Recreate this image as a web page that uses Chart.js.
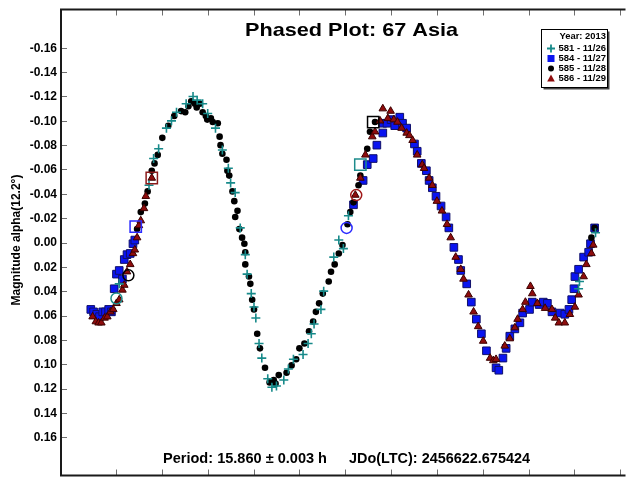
<!DOCTYPE html>
<html>
<head>
<meta charset="utf-8">
<title>Phased Plot: 67 Asia</title>
<script src="https://cdn.jsdelivr.net/npm/chart.js@4.4.1/dist/chart.umd.min.js"></script>
<style>
    html, body { margin: 0; padding: 0; background: #fff; overflow: hidden; }
</style>
</head>
<body>
<canvas id="phased" width="633" height="485"></canvas>
<script>
const FONT = '"Liberation Sans", Arial, sans-serif';

// axis ticks (phase on x, reduced magnitude on y)
const xTicks = [0, 0.1, 0.2, 0.3, 0.4, 0.5, 0.6, 0.7, 0.8, 0.9, 1.0, 1.1];
const yTicks = [-0.16, -0.14, -0.12, -0.10, -0.08, -0.06, -0.04, -0.02, 0, 0.02, 0.04, 0.06, 0.08, 0.10, 0.12, 0.14, 0.16];

const sessionLabels = ['581 - 11/26', '584 - 11/27', '585 - 11/28', '586 - 11/29'];

// session 581
const phase581 = [0.007, 0.072, 0.082, 0.093, 0.110, 0.121, 0.132, 0.153, 0.168, 0.177, 0.189, 0.200, 0.217, 0.232, 0.245,
    0.250, 0.260, 0.271, 0.282, 0.286, 0.295, 0.301, 0.305, 0.312, 0.318, 0.331, 0.340, 0.350, 0.366, 0.376, 0.387,
    0.408, 0.419, 0.426, 0.432, 0.447, 0.453, 0.475, 0.486, 0.496, 0.507, 1.009, 1.011, 1.046];
const mag581 = [0.034, -0.047, -0.069, -0.077, -0.094, -0.100, -0.107, -0.114, -0.120, -0.117, -0.114, -0.106, -0.094, -0.076, -0.061,
    -0.049, -0.041, -0.012, 0.010, 0.026, 0.042, 0.053, 0.062, 0.083, 0.095, 0.112, 0.119, 0.118, 0.113, 0.104, 0.096,
    0.092, 0.083, 0.075, 0.067, 0.055, 0.040, 0.012, -0.002, 0.005, -0.022, 0.038, 0.032, -0.008];

// session 584
const phase584 = [-0.055, -0.049, -0.042, -0.036, -0.029, -0.023, -0.016, -0.010, -0.004, 0.001, 0.007, 0.014, 0.018, 0.024, 0.031,
    0.037, 0.041, 0.518, 0.539, 0.548, 0.561, 0.569, 0.582, 0.582, 0.591, 0.600, 0.608, 0.619, 0.625, 0.634, 0.651,
    0.657, 0.666, 0.677, 0.683, 0.690, 0.698, 0.709, 0.720, 0.726, 0.737, 0.747, 0.752, 0.765, 0.775, 0.786, 0.797,
    0.808, 0.829, 0.835, 0.844, 0.851, 0.859, 0.870, 0.881, 0.887, 0.902, 0.908, 0.923, 0.932, 0.941, 0.951, 0.969,
    0.979, 0.988, 0.994, 0.999, 1.001, 1.009, 1.020, 1.031, 1.035, 1.044];
const mag584 = [0.055, 0.057, 0.059, 0.061, 0.057, 0.057, 0.055, 0.057, 0.038, 0.026, 0.023, 0.030, 0.014, 0.010, 0.009,
    0.001, -0.002, -0.031, -0.051, -0.064, -0.069, -0.080, -0.090, -0.098, -0.098, -0.101, -0.096, -0.103, -0.098, -0.094, -0.081,
    -0.075, -0.065, -0.059, -0.051, -0.045, -0.038, -0.030, -0.021, -0.012, 0.004, 0.014, 0.023, 0.034, 0.049, 0.063, 0.075,
    0.089, 0.103, 0.105, 0.095, 0.087, 0.077, 0.071, 0.066, 0.058, 0.055, 0.049, 0.051, 0.049, 0.050, 0.057, 0.058,
    0.059, 0.055, 0.047, 0.038, 0.028, 0.022, 0.012, 0.008, 0.001, -0.012];

// session 585
const phase585 = [0.046, 0.054, 0.063, 0.069, 0.078, 0.084, 0.091, 0.101, 0.114, 0.127, 0.142, 0.151, 0.158, 0.164, 0.172,
    0.176, 0.183, 0.189, 0.196, 0.199, 0.207, 0.211, 0.222, 0.226, 0.228, 0.232, 0.241, 0.243, 0.247, 0.254, 0.258,
    0.265, 0.260, 0.269, 0.275, 0.280, 0.282, 0.282, 0.290, 0.293, 0.297, 0.301, 0.308, 0.314, 0.325, 0.335, 0.344,
    0.348, 0.355, 0.372, 0.383, 0.393, 0.400, 0.411, 0.421, 0.430, 0.436, 0.443, 0.451, 0.464, 0.469, 0.477, 0.486,
    0.494, 0.505, 0.511, 0.518, 0.529, 0.533, 0.548, 0.554, 0.565, 1.037, 1.044];
const mag585 = [-0.011, -0.025, -0.032, -0.042, -0.059, -0.065, -0.072, -0.086, -0.096, -0.104, -0.108, -0.107, -0.112, -0.116, -0.114,
    -0.111, -0.114, -0.107, -0.104, -0.101, -0.102, -0.099, -0.098, -0.087, -0.080, -0.073, -0.068, -0.059, -0.055, -0.042, -0.034,
    -0.026, -0.021, -0.011, -0.004, 0.001, 0.008, 0.018, 0.028, 0.034, 0.047, 0.055, 0.075, 0.087, 0.103, 0.115, 0.113,
    0.116, 0.109, 0.107, 0.101, 0.096, 0.087, 0.083, 0.073, 0.065, 0.057, 0.050, 0.042, 0.032, 0.024, 0.018, 0.009,
    0.002, -0.015, -0.025, -0.033, -0.047, -0.055, -0.077, -0.091, -0.099, -0.004, -0.012];

// session 586
const phase586 = [-0.051, -0.044, -0.038, -0.032, -0.025, -0.019, -0.012, -0.006, 0.001, 0.007, 0.014, 0.018, 0.024, 0.031, 0.037,
    0.041, 0.046, 0.050, 0.054, 0.061, 0.065, 0.078, 0.522, 0.533, 0.544, 0.559, 0.565, 0.576, 0.582, 0.593, 0.599,
    0.606, 0.614, 0.623, 0.634, 0.640, 0.647, 0.657, 0.668, 0.672, 0.683, 0.690, 0.700, 0.711, 0.722, 0.730, 0.741,
    0.752, 0.758, 0.769, 0.780, 0.790, 0.801, 0.816, 0.823, 0.829, 0.848, 0.859, 0.870, 0.876, 0.887, 0.893, 0.904,
    0.908, 0.919, 0.936, 0.951, 0.958, 0.966, 0.979, 0.990, 1.001, 1.009, 1.020, 1.026, 1.037, 1.041];
const mag586 = [0.061, 0.065, 0.066, 0.066, 0.062, 0.061, 0.057, 0.055, 0.050, 0.047, 0.039, 0.035, 0.024, 0.018, 0.009,
    0.006, -0.004, -0.014, -0.018, -0.028, -0.038, -0.053, -0.039, -0.053, -0.072, -0.087, -0.091, -0.100, -0.110, -0.102, -0.108,
    -0.101, -0.099, -0.094, -0.090, -0.088, -0.084, -0.072, -0.064, -0.061, -0.053, -0.047, -0.034, -0.026, -0.015, -0.004, 0.012,
    0.022, 0.030, 0.043, 0.057, 0.069, 0.081, 0.095, 0.097, 0.096, 0.085, 0.079, 0.070, 0.063, 0.055, 0.049, 0.036,
    0.042, 0.050, 0.054, 0.055, 0.062, 0.066, 0.066, 0.059, 0.053, 0.043, 0.028, 0.018, 0.009, 0.002];

// hollow markers at the start of each session's data
const openSquarePhase = [0.078, 0.043, 0.561, 0.533];
const openSquareMag = [-0.053, -0.013, -0.099, -0.064];
const openSquareColors = ['#8b1a1a', '#2a2aff', '#000000', '#1e8c8c'];
const openCirclePhase = [0.027, 0.001, 0.524, 0.503];
const openCircleMag = [0.027, 0.046, -0.039, -0.012];
const openCircleColors = ['#000000', '#1e8c8c', '#a01818', '#2a2aff'];

const TEAL = '#178a8a';
const BLUE = '#0a14f0';
const RED = '#8e0c0c';

function points(phase, mag) {
    return phase.map((p, i) => ({ x: p, y: mag[i] }));
}

const datasets = [
    {
        label: sessionLabels[0], data: points(phase581, mag581), order: 1,
        pointStyle: 'cross', pointRadius: 4.5, pointBorderWidth: 1.6,
        pointBorderColor: TEAL, pointBackgroundColor: TEAL
    },
    {
        label: sessionLabels[1], data: points(phase584, mag584), order: 4,
        pointStyle: 'rect', pointRadius: 5.4, pointBorderWidth: 1,
        pointBorderColor: '#10106a', pointBackgroundColor: BLUE
    },
    {
        label: sessionLabels[2], data: points(phase585, mag585), order: 3,
        pointStyle: 'circle', pointRadius: 3.3, pointBorderWidth: 0,
        pointBorderColor: '#000', pointBackgroundColor: '#000'
    },
    {
        label: sessionLabels[3], data: points(phase586, mag586), order: 2,
        pointStyle: 'triangle', pointRadius: 4.4, pointBorderWidth: 1,
        pointBorderColor: '#3c0000', pointBackgroundColor: RED
    },
    {
        label: 'start', data: points(openSquarePhase, openSquareMag), order: 0,
        pointStyle: 'rect', pointRadius: 8, pointBorderWidth: 1.5,
        pointBorderColor: openSquareColors, pointBackgroundColor: 'rgba(0,0,0,0)'
    },
    {
        label: 'start', data: points(openCirclePhase, openCircleMag), order: 0,
        pointStyle: 'circle', pointRadius: 5.5, pointBorderWidth: 1.5,
        pointBorderColor: openCircleColors, pointBackgroundColor: 'rgba(0,0,0,0)'
    }
];

// bold text squeezed/stretched to a given width
function boldText(ctx, text, x, y, size, width, align) {
    ctx.font = 'bold ' + size + 'px ' + FONT;
    const k = width / ctx.measureText(text).width;
    ctx.save();
    ctx.translate(x, y);
    ctx.scale(k, 1);
    ctx.textAlign = align;
    ctx.textBaseline = 'middle';
    ctx.fillText(text, 0, 0);
    ctx.restore();
}

function drawLegend(ctx) {
    // box with a small drop shadow
    ctx.fillStyle = '#444';
    ctx.fillRect(543.5, 31.5, 66, 58);
    ctx.fillStyle = '#fff';
    ctx.fillRect(541.5, 29.5, 66, 58);
    ctx.strokeStyle = '#000';
    ctx.lineWidth = 1;
    ctx.strokeRect(541.5, 29.5, 66, 58);

    ctx.fillStyle = '#000';
    boldText(ctx, 'Year: 2013', 606, 36, 9.5, 46.5, 'right');
    const rows = [48.5, 58.5, 68.5, 78.5];
    sessionLabels.forEach((t, i) => {
        ctx.fillStyle = '#000';
        boldText(ctx, t, 558.5, rows[i], 9.5, 47.5, 'left');
    });

    const mx = 551;
    // plus
    ctx.strokeStyle = TEAL; ctx.lineWidth = 1.8;
    ctx.beginPath();
    ctx.moveTo(mx - 4, rows[0]); ctx.lineTo(mx + 4, rows[0]);
    ctx.moveTo(mx, rows[0] - 4); ctx.lineTo(mx, rows[0] + 4);
    ctx.stroke();
    // square
    ctx.fillStyle = BLUE;
    ctx.fillRect(mx - 3.5, rows[1] - 3.5, 7, 7);
    // circle
    ctx.fillStyle = '#000';
    ctx.beginPath(); ctx.arc(mx, rows[2], 3, 0, Math.PI * 2); ctx.fill();
    // triangle
    ctx.fillStyle = RED;
    ctx.beginPath();
    ctx.moveTo(mx, rows[3] - 4); ctx.lineTo(mx + 3.8, rows[3] + 3); ctx.lineTo(mx - 3.8, rows[3] + 3);
    ctx.closePath(); ctx.fill();
}

const phasedFrame = {
    id: 'phasedFrame',
    afterDatasetsDraw(chart) {
        const { ctx, chartArea: a, scales: { x, y } } = chart;
        ctx.save();

        // inward tick marks (the plot box runs on past the right edge)
        ctx.strokeStyle = '#6e6e6e';
        ctx.lineWidth = 1;
        ctx.beginPath();
        xTicks.forEach(v => {
            const px = Math.round(x.getPixelForValue(v)) + 0.5;
            ctx.moveTo(px, a.top); ctx.lineTo(px, a.top + 6);
            ctx.moveTo(px, a.bottom); ctx.lineTo(px, a.bottom - 6);
        });
        yTicks.forEach(v => {
            const py = Math.round(y.getPixelForValue(v)) + 0.5;
            ctx.moveTo(a.left, py); ctx.lineTo(a.left + 6, py);
        });
        ctx.stroke();

        // plot frame: top, left, bottom
        ctx.strokeStyle = '#1a1a1a';
        ctx.lineWidth = 2;
        ctx.beginPath();
        ctx.moveTo(a.right + 2, a.top);
        ctx.lineTo(a.left, a.top);
        ctx.lineTo(a.left, a.bottom);
        ctx.lineTo(a.right + 2, a.bottom);
        ctx.stroke();

        // y tick labels
        ctx.fillStyle = '#000';
        ctx.font = 'bold 12px ' + FONT;
        ctx.textAlign = 'right';
        ctx.textBaseline = 'middle';
        yTicks.forEach(v => ctx.fillText(v.toFixed(2), a.left - 4, y.getPixelForValue(v) + 0.5));

        // y axis title
        ctx.save();
        ctx.translate(17, 240);
        ctx.rotate(-Math.PI / 2);
        ctx.textAlign = 'center';
        ctx.font = 'bold 12px ' + FONT;
        ctx.fillText('Magnitude alpha(12.2°)', 0, 0);
        ctx.restore();

        // title and footer
        ctx.fillStyle = '#000';
        boldText(ctx, 'Phased Plot: 67 Asia', 351.5, 31, 19, 213, 'center');
        boldText(ctx, 'Period: 15.860 ± 0.003 h', 163, 459, 14, 164, 'left');
        boldText(ctx, 'JDo(LTC): 2456622.675424', 349, 459, 14, 181, 'left');

        drawLegend(ctx);
        ctx.restore();
    }
};

new Chart(document.getElementById('phased'), {
    type: 'scatter',
    data: { datasets },
    options: {
        responsive: false,
        animation: false,
        events: [],
        layout: { padding: { left: 61, top: 9, right: 0, bottom: 4 } },
        plugins: {
            legend: { display: false },
            tooltip: { enabled: false }
        },
        scales: {
            x: { type: 'linear', min: -0.12, max: 1.107, display: false },
            y: { type: 'linear', min: -0.1915, max: 0.1915, reverse: true, display: false }
        }
    },
    plugins: [phasedFrame]
});
</script>
</body>
</html>
